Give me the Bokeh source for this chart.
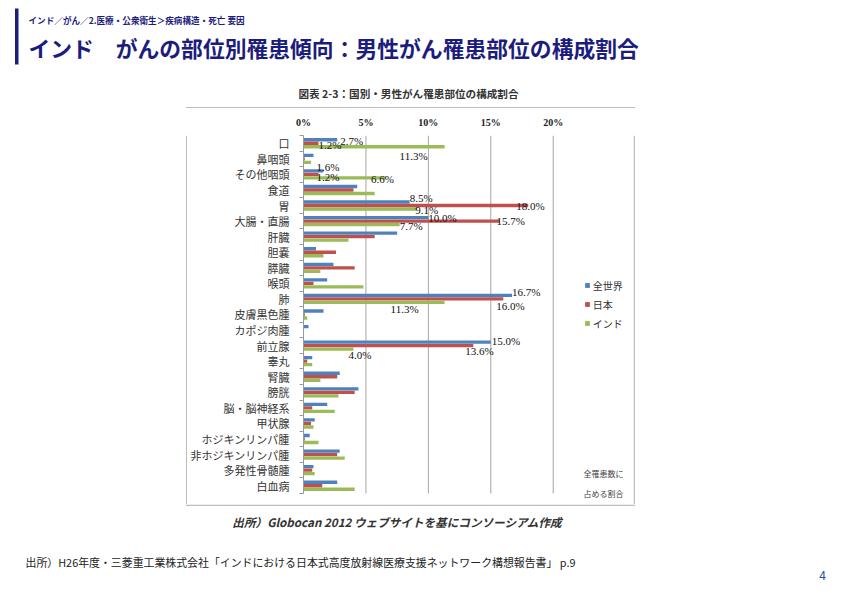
from bokeh.plotting import figure
from bokeh.layouts import column, row
from bokeh.models import (Range1d, FixedTicker, Label, BoxAnnotation, ColumnDataSource,
                          Legend, LegendItem)
from bokeh.transform import dodge
from bokeh.embed import file_html
from bokeh.resources import INLINE
from bokeh.core.properties import value

# ---------------- data ----------------
categories = ["口", "鼻咽頭", "その他咽頭", "食道", "胃", "大腸・直腸", "肝臓", "胆嚢", "膵臓",
              "喉頭", "肺", "皮膚黒色腫", "カポジ肉腫", "前立腺", "睾丸", "腎臓", "膀胱",
              "脳・脳神経系", "甲状腺", "ホジキンリンパ腫", "非ホジキンリンパ腫", "多発性骨髄腫", "白血病"]
series_names = ["全世界", "日本", "インド"]
world = [2.7, 0.8, 1.6, 4.3, 8.5, 10.0, 7.5, 1.0, 2.4, 1.9, 16.7, 1.6, 0.4, 15.0, 0.7, 2.9, 4.4,
         1.9, 0.9, 0.5, 2.9, 0.8, 2.7]
japan = [1.2, 0.1, 1.2, 4.0, 18.0, 15.7, 5.7, 2.6, 4.1, 0.8, 16.0, 0.1, 0.0, 13.6, 0.3, 2.7, 4.1,
         0.7, 0.6, 0.1, 2.7, 0.7, 1.5]
india = [11.3, 0.6, 6.6, 5.7, 9.1, 7.7, 3.6, 1.6, 1.35, 4.8, 11.3, 0.3, 0.0, 4.0, 0.7, 1.35, 2.8,
         2.5, 0.8, 1.2, 3.3, 0.9, 4.1]
x_ticks = [0, 5, 10, 15, 20]
x_tick_labels = ["0%", "5%", "10%", "15%", "20%"]
grid_ticks = [5, 10, 15, 20]

# labelled bars: category, series index
label_cats = ["口", "口", "口", "その他咽頭", "その他咽頭", "その他咽頭", "胃", "胃", "胃",
              "大腸・直腸", "大腸・直腸", "大腸・直腸", "肺", "肺", "肺", "前立腺", "前立腺", "前立腺"]
label_series = [0, 1, 2, 0, 1, 2, 0, 1, 2, 0, 1, 2, 0, 1, 2, 0, 1, 2]
# placement nudges (pixels) -- style only
label_dx = [3, 0, -45, -7, -2, -15, 0, -12, -2, 0, -3, 0, 0, -7, -54, 1, -8, -5]
label_dy = [1.5, 2, 9, -3.6, 3, 1.5, -3.7, 0, 0.5, 0, 0, 1, -3, 7, 7, -1.6, 5, 5.6]

# ---------------- style ----------------
COLORS = ["#4F81BD", "#C0504D", "#9BBB59"]
NAVY = "#1c1c7e"
BORDER = "#bdbdbd"
JP = "Noto Sans CJK JP"
OFF = [0.225, 0.0, -0.225]
BAR_H = 0.215

# page layout (pixels)
PAGE_W, PAGE_H = 842, 595
BOX_L, BOX_T, BOX_R, BOX_B = 187, 108, 633, 504
CH_W, CH_H = BOX_R - BOX_L, BOX_B - BOX_T          # chart figure = the framed box
FRAME_L, FRAME_T = 113, 27                         # axis panels inside the box
PXU = 12.6                                         # pixels per 1 %
ROW = 15.565                                       # pixels per category row

n = len(categories)
row_y = [n - i - 0.5 for i in range(n)]
FW, FH = CH_W - FRAME_L, CH_H - FRAME_T

# ---------------- chart figure ----------------
p = figure(width=CH_W, height=CH_H, x_range=Range1d(0, FW / PXU),
           y_range=Range1d(n - FH / ROW, n),
           x_axis_location="above", output_backend="svg", toolbar_location=None,
           min_border_left=FRAME_L, min_border_top=FRAME_T, min_border_right=0,
           min_border_bottom=0)
p.outline_line_color = None
p.background_fill_color = "white"
p.border_fill_color = "white"

# gridlines (only across the category rows)
p.segment(x0=grid_ticks, x1=grid_ticks, y0=[0] * len(grid_ticks), y1=[n] * len(grid_ticks),
          line_color="#a6a6a6", line_width=1)

src = ColumnDataSource(dict(y=row_y, world=world, japan=japan, india=india))
renderers = []
for field, off, col in zip(["world", "japan", "india"], OFF, COLORS):
    r = p.hbar(y=dodge("y", off), left=0, right=field, height=BAR_H, source=src,
               fill_color=col, line_color=None)
    renderers.append(r)

# data labels
series_vals = [world, japan, india]
lx, ly, lt = [], [], []
for c, s in zip(label_cats, label_series):
    i = categories.index(c)
    v = series_vals[s][i]
    lx.append(v)
    ly.append(row_y[i] + OFF[s])
    lt.append(f"{v:.1f}%")
lsrc = ColumnDataSource(dict(x=lx, y=ly, t=lt, dx=label_dx, dy=label_dy))
p.text(x="x", y="y", text="t", x_offset="dx", y_offset="dy", source=lsrc,
       text_font=value("Liberation Serif"), text_font_size="11px", text_color="#111111",
       text_baseline="middle", text_align="left")

# axes
xa = p.xaxis[0]
xa.ticker = FixedTicker(ticks=x_ticks)
xa.major_label_overrides = {t: l for t, l in zip(x_ticks, x_tick_labels)}
xa.axis_line_color = None
xa.major_tick_line_color = None
xa.minor_tick_line_color = None
xa.major_label_text_font = "Liberation Serif"
xa.major_label_text_font_style = "bold"
xa.major_label_text_font_size = "10px"
xa.major_label_text_color = "#222222"
xa.major_label_standoff = 2

ya = p.yaxis[0]
ya.ticker = FixedTicker(ticks=row_y, minor_ticks=list(range(n + 1)))
ya.major_label_overrides = {y: c for y, c in zip(row_y, categories)}
ya.bounds = (0, n)
ya.axis_line_color = "#9a9a9a"
ya.major_tick_line_color = None
ya.major_tick_out = 0
ya.major_tick_in = 0
ya.minor_tick_line_color = "#9a9a9a"
ya.minor_tick_out = 4
ya.minor_tick_in = 0
ya.major_label_standoff = 10
ya.major_label_text_font = JP
ya.major_label_text_font_size = "11px"
ya.major_label_text_color = "#333333"

p.xgrid.visible = False
p.ygrid.visible = False

legend = Legend(items=[LegendItem(label=nm, renderers=[r]) for nm, r in zip(series_names, renderers)],
                location=(580.7 - BOX_L - FRAME_L, BOX_B - 332.5), orientation="vertical",
                glyph_width=6, glyph_height=6,
                label_text_font=JP, label_text_font_size="10px",
                label_text_color="#333333", label_height=19, spacing=0, padding=0, margin=0,
                label_standoff=3, border_line_color=None, background_fill_alpha=0)
p.add_layout(legend)

for txt, py in [("全罹患数に", 473), ("占める割合", 492.5)]:
    p.add_layout(Label(x=580 - BOX_L - FRAME_L, y=BOX_B - py, x_units="screen", y_units="screen",
                       text=txt, text_font=JP, text_font_size="8px", text_color="#444444",
                       text_baseline="middle", text_align="left"))


# ---------------- page decoration figures ----------------
def deco_fig(w, h):
    f = figure(width=w, height=h, x_range=Range1d(0, w), y_range=Range1d(h, 0),
               x_axis_type=None, y_axis_type=None, output_backend="svg",
               toolbar_location=None, min_border=0)
    f.outline_line_color = None
    f.background_fill_color = "white"
    f.border_fill_color = "white"
    f.grid.visible = False
    return f


def add_text(f, x, y, text, size, color, font=JP, style="normal", align="left"):
    f.add_layout(Label(x=x, y=y, text=text, text_font=font, text_font_size=f"{size}px",
                       text_color=color, text_font_style=style, text_align=align,
                       text_baseline="middle"))


def add_box(f, x0, y0, x1, y1, color):
    f.add_layout(BoxAnnotation(left=x0, right=x1, top=y0, bottom=y1, fill_color=color,
                               fill_alpha=1, line_color=None))


header = deco_fig(PAGE_W, BOX_T)
add_box(header, 14.5, 8, 18, 64, NAVY)
add_text(header, 28, 19, "インド／がん／2.医療・公衆衛生＞疾病構造・死亡 要因", 8.6, NAVY, style="bold")
add_text(header, 28, 47, "インド　がんの部位別罹患傾向：男性がん罹患部位の構成割合", 21.8, NAVY,
         style="bold")
add_text(header, 408, 93, "図表 2-3：国別・男性がん罹患部位の構成割合", 10.6, "#333333",
         style="bold", align="center")
add_box(header, BOX_L - 1.5, BOX_T - 1.5, BOX_R + 1.5, BOX_T, BORDER)

left = deco_fig(BOX_L, CH_H)
add_box(left, BOX_L - 1.5, 0, BOX_L, CH_H, BORDER)

right = deco_fig(PAGE_W - BOX_R, CH_H)
add_box(right, 0, 0, 1.5, CH_H, BORDER)

footer = deco_fig(PAGE_W, PAGE_H - BOX_B)
add_box(footer, BOX_L - 1.5, 0, BOX_R + 1.5, 1.5, BORDER)
add_text(footer, 397, 521 - BOX_B, "出所）Globocan 2012 ウェブサイトを基にコンソーシアム作成", 11.6,
         "#333333", style="bold italic", align="center")
add_text(footer, 25, 561 - BOX_B,
         "出所）H26年度・三菱重工業株式会社「インドにおける日本式高度放射線医療支援ネットワーク構想報告書」 p.9",
         10.9, "#222222")
add_text(footer, 822, 575 - BOX_B, "4", 12, "#2e4a9e", align="center")

page = column(header, row(left, p, right, spacing=0), footer, spacing=0)

open("out.html", "w").write(file_html(page, INLINE))
